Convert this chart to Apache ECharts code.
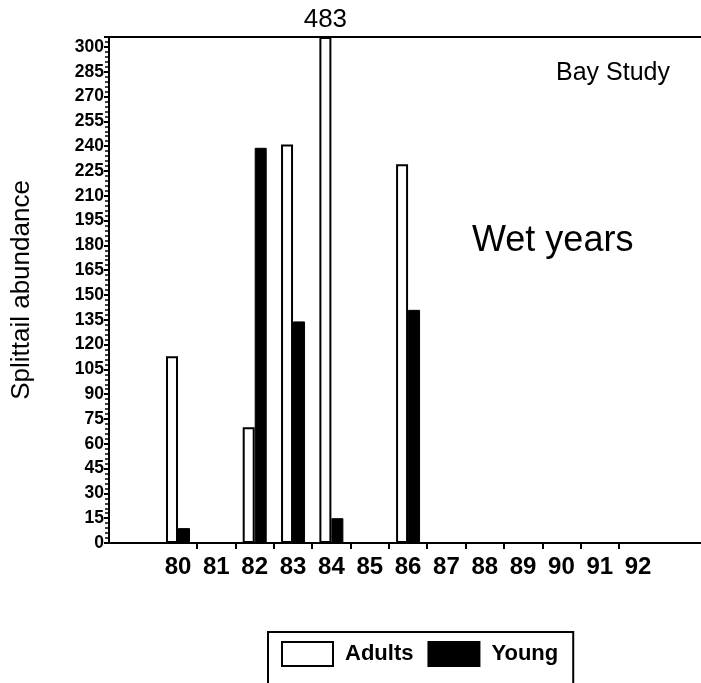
<!DOCTYPE html>
<html lang="en">
<head>
    <meta charset="utf-8">
    <title>Splittail abundance - Wet years</title>
    <script src="https://cdn.jsdelivr.net/npm/echarts@6/dist/echarts.min.js"></script>
    <style type="text/css">
        html, body {
            margin: 0;
            padding: 0;
            background: #ffffff;
        }
        #main {
            width: 701px;
            height: 683px;
        }
    </style>
</head>
<body>
<div id="main"></div>
<script type="text/javascript">
    // 年份（x轴）
    const years = [80, 81, 82, 83, 84, 85, 86, 87, 88, 89, 90, 91, 92];
    // 成鱼 / 幼鱼
    const adults = [113, null, 70, 241, 483, null, 229, null, null, null, null, null, null];
    const young = [9, null, 239, 134, 15, null, 141, null, null, null, null, null, null];
    // y轴刻度
    const yTicks = [0, 15, 30, 45, 60, 75, 90, 105, 120, 135, 150, 165, 180, 195, 210, 225, 240, 255, 270, 285, 300];
    const yMax = 306;

    const FONT = '"Liberation Sans", Arial, sans-serif';

    // 超出坐标轴的柱子截断在顶端，并标出实际数值
    function toSeries(values) {
        let out = [];
        for (let i = 0; i < years.length; i++) {
            if (values[i] === null) continue;
            let item = {value: [years[i], Math.min(values[i], yMax)]};
            if (values[i] > yMax) {
                item.label = {
                    show: true,
                    position: 'top',
                    distance: 4,
                    formatter: String(values[i]),
                    color: '#000',
                    fontFamily: FONT,
                    fontSize: 26
                };
            }
            out.push(item);
        }
        return out;
    }

    let myChart = echarts.init(document.getElementById('main'), null, {renderer: 'canvas'});

    let option = {
        backgroundColor: '#ffffff',
        animation: false,
        grid: {left: 109, right: 0, top: 37, bottom: 140, containLabel: false, outerBoundsMode: 'none'},
        graphic: [
            {
                type: 'text', left: 556, top: 61,
                style: {text: 'Bay Study', fill: '#000', font: '25px "Liberation Sans", Arial, sans-serif'}
            },
            {
                type: 'text', left: 472, top: 223,
                style: {text: 'Wet years', fill: '#000', font: '36px "Liberation Sans", Arial, sans-serif'}
            }
        ],
        legend: {
            left: 268,
            top: 632,
            orient: 'horizontal',
            itemWidth: 51,
            itemHeight: 24,
            itemGap: 14,
            padding: [9, 15, 40, 13],
            borderColor: '#000',
            borderWidth: 2,
            icon: 'rect',
            textStyle: {
                color: '#000',
                fontFamily: FONT,
                fontSize: 22,
                fontWeight: 'bold',
                padding: [0, 0, 0, 7]
            },
            data: ['Adults', 'Young']
        },
        xAxis: [
            {
                type: 'value',
                min: 78.2,
                max: 93.64,
                splitLine: {show: false},
                axisLine: {show: true, onZero: false, lineStyle: {color: '#000', width: 2}},
                axisTick: {
                    show: true,
                    length: 6,
                    lineStyle: {color: '#000', width: 2},
                    customValues: years.slice(0, -1).map(function (y) { return y + 0.5; })
                },
                axisLabel: {
                    show: true,
                    customValues: years,
                    margin: 12,
                    color: '#000',
                    fontFamily: FONT,
                    fontWeight: 'bold',
                    fontSize: 24,
                    formatter: function (v) { return String(v); }
                }
            },
            {
                type: 'value',
                position: 'top',
                min: 78.2,
                max: 93.64,
                splitLine: {show: false},
                axisLine: {show: true, onZero: false, lineStyle: {color: '#000', width: 2}},
                axisTick: {show: false},
                axisLabel: {show: false}
            }
        ],
        yAxis: {
            type: 'value',
            min: 0,
            max: yMax,
            interval: 15,
            name: 'Splittail abundance',
            nameLocation: 'middle',
            nameGap: 74,
            nameTextStyle: {color: '#000', fontFamily: FONT, fontSize: 26},
            splitLine: {show: false},
            axisLine: {show: true, lineStyle: {color: '#000', width: 2}},
            axisTick: {show: true, length: 5, lineStyle: {color: '#000', width: 2}},
            minorTick: {show: true, splitNumber: 5, length: 4, lineStyle: {color: '#000', width: 1.5}},
            axisLabel: {
                customValues: yTicks,
                margin: 5,
                color: '#000',
                fontFamily: FONT,
                fontWeight: 'bold',
                fontSize: 17.5
            }
        },
        series: [
            {
                name: 'Adults',
                type: 'bar',
                barWidth: 12,
                barGap: '0%',
                itemStyle: {color: '#ffffff', borderColor: '#000', borderWidth: 2},
                data: toSeries(adults)
            },
            {
                name: 'Young',
                type: 'bar',
                barWidth: 12,
                barGap: '0%',
                itemStyle: {color: '#000000', borderColor: '#000', borderWidth: 1},
                data: toSeries(young)
            }
        ]
    };

    myChart.setOption(option);
</script>
</body>
</html>
